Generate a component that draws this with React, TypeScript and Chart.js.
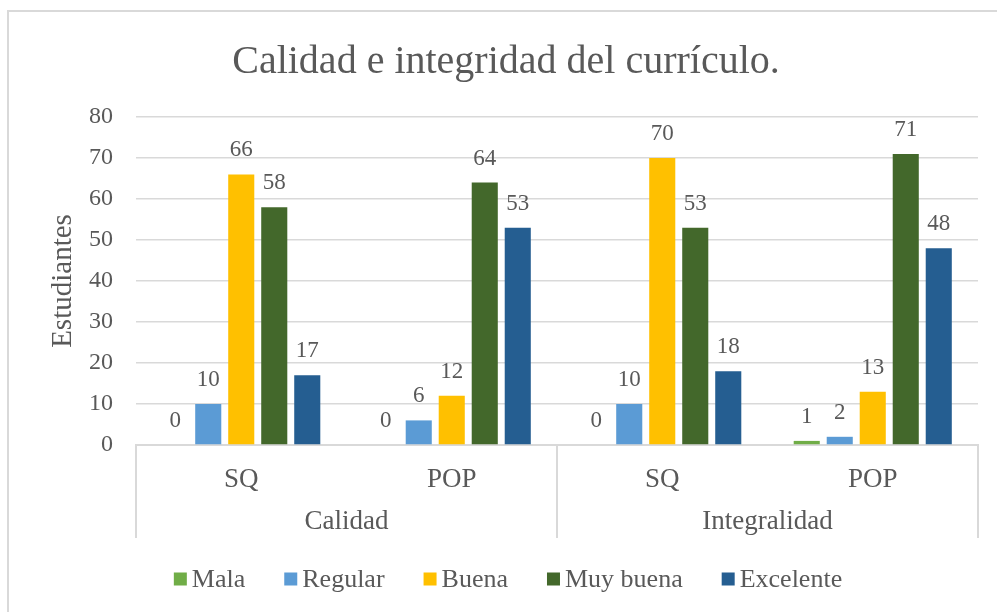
import React, { useEffect, useRef } from "react";
import { Chart, registerables } from "chart.js";

Chart.register(...registerables);

// ---- data ----
const CATEGORIES = ["SQ", "POP", "SQ", "POP"];
const GROUPS = ["Calidad", "Integralidad"];
const SERIES_NAMES = ["Mala", "Regular", "Buena", "Muy buena", "Excelente"];
const MALA = [0, 0, 0, 1];
const REGULAR = [10, 6, 10, 2];
const BUENA = [66, 12, 70, 13];
const MUY_BUENA = [58, 64, 53, 71];
const EXCELENTE = [17, 53, 18, 48];
const Y_MIN = 0;
const Y_MAX = 80;
const Y_STEP = 10;
const TITLE = "Calidad e integridad del currículo.";
const Y_TITLE = "Estudiantes";

const COLORS = ["#70AD47", "#5B9BD5", "#FFC000", "#43682B", "#255E91"];
const SERIES_VALUES = [MALA, REGULAR, BUENA, MUY_BUENA, EXCELENTE];

const FONT = "'Liberation Serif', 'Times New Roman', serif";
const TEXT = "#595959";
const LINE = "#D9D9D9";

const decorPlugin = {
  id: "decor",
  afterDatasetsDraw(chart: any) {
    const ctx = chart.ctx;
    ctx.save();
    ctx.fillStyle = TEXT;
    ctx.font = `23px ${FONT}`;
    ctx.textAlign = "center";
    ctx.textBaseline = "alphabetic";
    chart.data.datasets.forEach((ds: any, i: number) => {
      const meta = chart.getDatasetMeta(i);
      meta.data.forEach((el: any, j: number) => {
        ctx.fillText(String(ds.data[j]), el.x, el.y - 18);
      });
    });
    ctx.restore();
  },
  afterDraw(chart: any) {
    const ctx = chart.ctx;
    const area = chart.chartArea;
    const xs = chart.scales.x;
    ctx.save();

    // frame
    ctx.strokeStyle = LINE;
    ctx.lineWidth = 2;
    ctx.strokeRect(8, 11, 1100, 700);

    // title
    ctx.fillStyle = TEXT;
    ctx.font = `40px ${FONT}`;
    ctx.textAlign = "center";
    ctx.textBaseline = "alphabetic";
    ctx.fillText(TITLE, 506, 73);

    // y title
    ctx.save();
    ctx.translate(63, (area.top + area.bottom) / 2);
    ctx.rotate(-Math.PI / 2);
    ctx.font = `29px ${FONT}`;
    ctx.textBaseline = "middle";
    ctx.textAlign = "center";
    ctx.fillText(Y_TITLE, 0, 0);
    ctx.restore();

    // group separators and labels
    const n = CATEGORIES.length;
    const per = n / GROUPS.length;
    const bounds: number[] = [xs.left];
    for (let g = 1; g < GROUPS.length; g++) {
      const a = xs.getPixelForValue(g * per - 1);
      const b = xs.getPixelForValue(g * per);
      bounds.push((a + b) / 2);
    }
    bounds.push(xs.right);
    ctx.strokeStyle = LINE;
    ctx.lineWidth = 2;
    bounds.forEach((bx) => {
      ctx.beginPath();
      ctx.moveTo(bx, area.bottom);
      ctx.lineTo(bx, area.bottom + 93);
      ctx.stroke();
    });
    ctx.font = `27px ${FONT}`;
    ctx.textBaseline = "middle";
    ctx.textAlign = "center";
    GROUPS.forEach((g, i) => {
      const cx = (xs.getPixelForValue(i * per) + xs.getPixelForValue(i * per + per - 1)) / 2;
      ctx.fillText(g, cx, area.bottom + 77);
    });

    // legend
    ctx.font = `26px ${FONT}`;
    const box = 13;
    const gapText = 5;
    const spacing = 39;
    const items = chart.data.datasets.map((ds: any) => ({
      label: ds.label,
      color: ds.backgroundColor,
      w: box + gapText + ctx.measureText(ds.label).width,
    }));
    const total = items.reduce((s: number, it: any) => s + it.w, 0) + spacing * (items.length - 1);
    let lx = 508 - total / 2;
    const ly = 579;
    ctx.textAlign = "left";
    ctx.textBaseline = "middle";
    items.forEach((it: any) => {
      ctx.fillStyle = it.color;
      ctx.fillRect(lx, ly - box / 2, box, box);
      ctx.fillStyle = TEXT;
      ctx.fillText(it.label, lx + box + gapText, ly + 1);
      lx += it.w + spacing;
    });

    ctx.restore();
  },
};

export default function App() {
  const ref = useRef<HTMLCanvasElement | null>(null);

  useEffect(() => {
    if (!ref.current) return;
    const chart = new Chart(ref.current, {
      type: "bar",
      data: {
        labels: CATEGORIES,
        datasets: SERIES_NAMES.map((name, i) => ({
          label: name,
          data: SERIES_VALUES[i],
          backgroundColor: COLORS[i],
          borderWidth: 0,
          barPercentage: 0.79,
          categoryPercentage: 0.784,
        })),
      },
      options: {
        responsive: false,
        animation: false,
        devicePixelRatio: 1,
        layout: {
          padding: { top: 117, left: 0, right: 19, bottom: 107 },
        },
        plugins: {
          legend: { display: false },
          title: { display: false },
          tooltip: { enabled: false },
        },
        scales: {
          x: {
            grid: { display: false, drawTicks: false },
            border: { display: true, color: LINE, width: 2 },
            ticks: {
              color: TEXT,
              font: { family: FONT, size: 27 },
              padding: 19,
              maxRotation: 0,
              autoSkip: false,
            },
            afterFit(scale: any) {
              scale.height = 60;
            },
          },
          y: {
            min: Y_MIN,
            max: Y_MAX,
            grid: { color: LINE, lineWidth: 1.5, drawTicks: false },
            border: { display: false },
            ticks: {
              stepSize: Y_STEP,
              color: TEXT,
              font: { family: FONT, size: 24 },
              padding: 23,
            },
            afterFit(scale: any) {
              scale.width = 136;
            },
          },
        },
      },
      plugins: [decorPlugin],
    } as any);
    return () => chart.destroy();
  }, []);

  return (
    <div style={{ position: "absolute", left: 0, top: 0, width: 997, height: 612, background: "#fff" }}>
      <canvas ref={ref} width={997} height={612} />
    </div>
  );
}
